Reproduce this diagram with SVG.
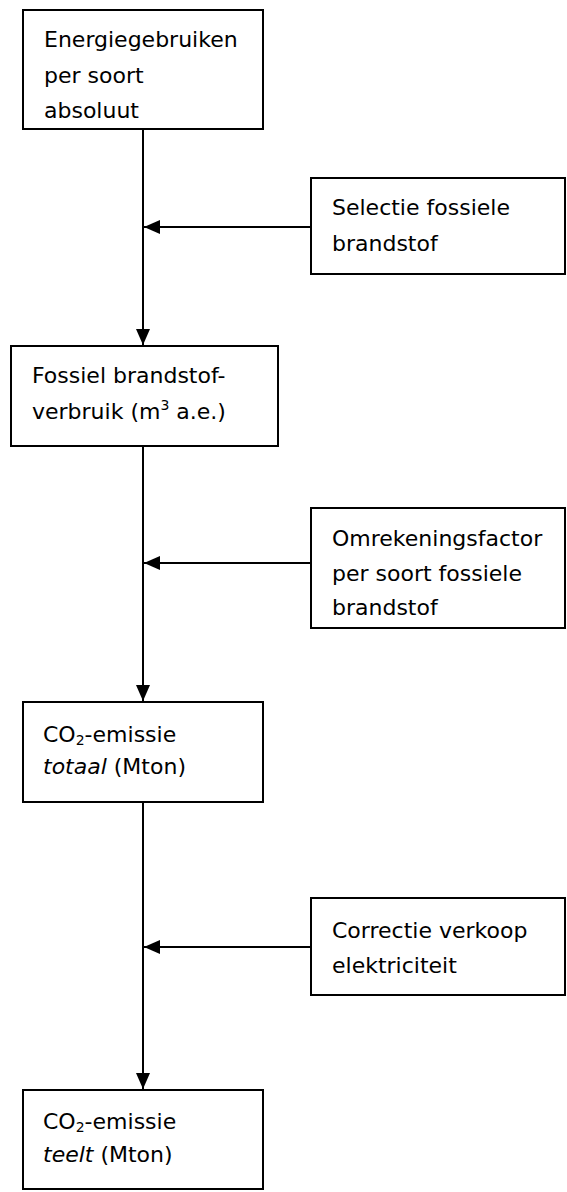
<svg xmlns="http://www.w3.org/2000/svg" width="567" height="1192" viewBox="0 0 567 1192">
<style>
.box{fill:#fff;stroke:#000;stroke-width:2}
.t{font-family:"DejaVu Sans",Verdana,sans-serif;font-size:22px;fill:#000}
.c{stroke:#000;stroke-width:2;fill:none}
.sub{font-size:14px}
</style>
<defs>
<marker id="ah" markerUnits="userSpaceOnUse" markerWidth="16" markerHeight="14" refX="16" refY="7" orient="auto">
<path d="M0,0 L16,7 L0,14 Z" fill="#000"/>
</marker>
</defs>
<rect width="567" height="1192" fill="#fff"/>
<g id="connectors">
<line class="c" x1="143" y1="129" x2="143" y2="345" marker-end="url(#ah)"/>
<line class="c" x1="143" y1="446" x2="143" y2="701" marker-end="url(#ah)"/>
<line class="c" x1="143" y1="802" x2="143" y2="1089" marker-end="url(#ah)"/>
<line class="c" x1="311" y1="227" x2="144" y2="227" marker-end="url(#ah)"/>
<line class="c" x1="311" y1="563" x2="144" y2="563" marker-end="url(#ah)"/>
<line class="c" x1="311" y1="947" x2="144" y2="947" marker-end="url(#ah)"/>
</g>
<g id="n1">
<rect class="box" x="23" y="10" width="240" height="119"/>
<text class="t" x="44" y="47">Energiegebruiken</text>
<text class="t" x="44" y="82.5">per soort</text>
<text class="t" x="44" y="118">absoluut</text>
</g>
<g id="n2">
<rect class="box" x="311" y="178" width="254" height="96"/>
<text class="t" x="332" y="215">Selectie fossiele</text>
<text class="t" x="332" y="251">brandstof</text>
</g>
<g id="n3">
<rect class="box" x="11" y="346" width="267" height="100"/>
<text class="t" x="32" y="383">Fossiel brandstof-</text>
<text class="t" x="32" y="419">verbruik (m<tspan font-size="14" dy="-9">3</tspan><tspan dy="9"> a.e.)</tspan></text>
</g>
<g id="n4">
<rect class="box" x="311" y="508" width="254" height="120"/>
<text class="t" x="332" y="546">Omrekeningsfactor</text>
<text class="t" x="332" y="581">per soort fossiele</text>
<text class="t" x="332" y="615">brandstof</text>
</g>
<g id="n5">
<rect class="box" x="23" y="702" width="240" height="100"/>
<text class="t" x="43" y="742">CO<tspan class="sub" dy="3">2</tspan><tspan dy="-3">-emissie</tspan></text>
<text class="t" x="43" y="774"><tspan font-style="italic">totaal</tspan> (Mton)</text>
</g>
<g id="n6">
<rect class="box" x="311" y="898" width="254" height="97"/>
<text class="t" x="332" y="938">Correctie verkoop</text>
<text class="t" x="332" y="973">elektriciteit</text>
</g>
<g id="n7">
<rect class="box" x="23" y="1090" width="240" height="99"/>
<text class="t" x="43" y="1129">CO<tspan class="sub" dy="3">2</tspan><tspan dy="-3">-emissie</tspan></text>
<text class="t" x="43" y="1162"><tspan font-style="italic">teelt</tspan> (Mton)</text>
</g>
</svg>
